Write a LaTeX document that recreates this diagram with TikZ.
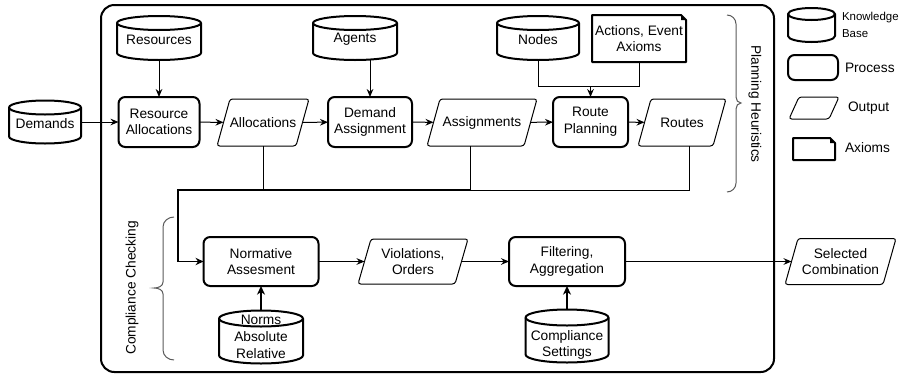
\documentclass[tikz,border=0pt]{standalone}
\usepackage{fontspec}
\setmainfont{Liberation Sans}
\usetikzlibrary{calc,arrows.meta}
\tikzset{
  base/.style={inner sep=0pt, outer sep=0pt, align=center, font=\fontsize{10.3}{12.5}\selectfont},
  dims/.style 2 args={minimum width={(#1)*0.75pt}, minimum height={(#2)*0.75pt}},
  proc/.style={base, draw, line width=1.5pt, rounded corners=5pt},
  thinln/.style={line width=0.75pt},
  kbline/.style={line width=1.5pt, line join=round},
  outline/.style={line width=0.75pt, rounded corners=2pt, line join=round},
  arr/.style={line width=0.75pt, -{Stealth[length=6pt,width=5pt,inset=2pt]}},
  arrthk/.style={line width=1.5pt, -{Stealth[length=6.5pt,width=6pt,inset=2pt]}},
  trunkln/.style={line width=1.2pt, -{Stealth[length=6pt,width=5.5pt,inset=2pt]}},
  bracel/.style={line width=0.75pt, black!65},
}
% cylinder: name, cx, cy, w, h, ry, text, text dy
\newcommand\KBcyl[8]{%
  \node[base, dims={#4}{#5}] (#1) at (#2,-#3) {};
  \draw[kbline] ($(#1.north west)+(0,-#6)$) -- ($(#1.south west)+(0,#6)$)
     arc[start angle=180,end angle=360,x radius={(#4)*0.375pt},y radius={(#6)*0.75pt}]
     -- ($(#1.north east)+(0,-#6)$)
     arc[start angle=0,end angle=180,x radius={(#4)*0.375pt},y radius={(#6)*0.75pt}] -- cycle;
  \draw[kbline] ($(#1.north west)+(0,-#6)$)
     arc[start angle=180,end angle=360,x radius={(#4)*0.375pt},y radius={(#6)*0.75pt}];
  \node[base] (#1-t) at ($(#1)+(0,-#8)$) {#7};
}
% parallelogram: name, cx, cy, w, h, slant, text
\newcommand\OUTpar[7]{%
  \node[base, dims={#4-#6}{#5}] (#1) at (#2,-#3) {#7};
  \draw[outline] ($(#1.north west)+(#6/2,0)$) -- ($(#1.north east)+(#6/2,0)$)
     -- ($(#1.south east)+(-#6/2,0)$) -- ($(#1.south west)+(-#6/2,0)$) -- cycle;
}
% note: name, cx, cy, w, h, fold, text
\newcommand\DOCnote[7]{%
  \node[base, dims={#4}{#5}] (#1) at (#2,-#3) {#7};
  \draw[kbline] (#1.north west) -- ($(#1.north east)+(-#6,0)$) -- ($(#1.north east)+(0,-#6)$)
     -- (#1.south east) -- (#1.south west) -- cycle;
  \fill ($(#1.north east)+(-#6,0)$) -- ($(#1.north east)+(0,-#6)$) -- ($(#1.north east)+(-#6,-#6)$) -- cycle;
}
\begin{document}
\begin{tikzpicture}[x=0.75pt,y=0.75pt]
\useasboundingbox (0,0) rectangle (906,-375);
% frame
\node[base, draw, line width=1.5pt, rounded corners=10pt, dims={673}{367}] (frame) at (437.5,-188.5) {};

% knowledge bases
\KBcyl{demands}{45}{122}{72}{43}{7}{Demands}{1.5}
\KBcyl{res}{159}{38}{84}{44}{7}{Resources}{1.5}
\KBcyl{agents}{355}{38}{84}{44}{7}{Agents}{1.5}
\KBcyl{nodes}{538}{38}{82}{44}{7}{Nodes}{1.5}
\KBcyl{norms}{261}{337}{84}{53}{8}{Norms\\Absolute\\Relative}{0}
\KBcyl{cs}{567}{336}{83}{53}{8}{Compliance\\Settings}{9}

% processes
\node[proc, dims={81}{50}] (ra) at (159,-122) {Resource\\Allocations};
\node[proc, dims={84}{50}] (da) at (370,-122) {Demand\\Assignment};
\node[proc, dims={75}{50}] (rp) at (590.5,-122) {Route\\Planning};
\node[proc, dims={115}{49}] (na) at (261,-261.5) {Normative\\Assesment};
\node[proc, dims={116}{49}] (fa) at (567,-261.5) {Filtering,\\Aggregation};

% outputs
\OUTpar{alloc}{263}{122.5}{92}{47}{13}{Allocations}
\OUTpar{assign}{482}{122.5}{110}{47}{13}{Assignments}
\OUTpar{routes}{682}{122.5}{88}{47}{13}{Routes}
\OUTpar{viol}{413}{261.5}{110}{45}{13}{Violations,\\Orders}
\OUTpar{sel}{840.5}{261.5}{111}{46}{13}{Selected\\Combination}

% axioms
\DOCnote{act}{639}{38.5}{94}{47}{5}{Actions, Event\\Axioms}

% legend
\KBcyl{lkb}{811.5}{25}{47}{34}{6}{}{0}
\node[proc, dims={50}{25}] (lproc) at (813,-67.5) {};
\OUTpar{lout}{814}{108}{50}{22}{10}{}
\DOCnote{lax}{814}{149}{42}{22}{5}{}
\node[base, anchor=west, align=left, font=\fontsize{8.6}{12.5}\selectfont] (lkbt) at (842,-25) {Knowledge\\Base};
\node[base, anchor=west] (lpt) at (845,-68) {Process};
\node[base, anchor=west] (lot) at (848,-108) {Output};
\node[base, anchor=west] (lat) at (845,-148) {Axioms};

% braces and group labels
\draw[bracel] (727,-15) to[out=0,in=90] (736,-24) -- (736,-97) to[out=270,in=180] (741,-103)
   to[out=180,in=90] (736,-109) -- (736,-183) to[out=270,in=0] (727,-192);
\node[base, rotate=-90] (ph) at (755,-104) {Planning Heuristics};
\draw[bracel] (174,-217) to[out=180,in=90] (163,-227) -- (163,-282) to[out=270,in=0] (154,-288)
   to[out=0,in=90] (163,-294) -- (163,-350) to[out=270,in=180] (174,-360);
\node[base, rotate=90] (cc) at (132,-288) {Compliance Checking};

% connectors, top row
\draw[arr] (demands) -- (ra);
\draw[arr] (res) -- (ra);
\draw[arr] (ra) -- (alloc);
\draw[arr] (alloc) -- (da);
\draw[arr] (agents.south -| da.north) -- (da.north);
\draw[arr] (da) -- (assign);
\draw[arr] (assign) -- (rp);
\draw[arr] (rp) -- (routes);
\coordinate (rpin) at ($(rp.north)+(0,11)$);
\draw[thinln] (nodes.south) |- (rpin);
\draw[thinln] (act.south) |- (rpin);
\draw[arr] (rpin) -- (rp.north);

% connectors to compliance checking
\coordinate (trunk) at (178,-190);
\coordinate (jA) at (470,-190);
\draw[thinln] (alloc.south) |- (trunk);
\draw[thinln] ([xshift=-9pt]assign.south) |- (jA);
\draw[thinln] ([xshift=5.25pt]routes.south) |- (jA);
\draw[trunkln] (jA) -- (trunk) |- (na.west);

% bottom row
\draw[arr] (na) -- (viol);
\draw[arr] (viol) -- (fa);
\draw[arr] (fa) -- (sel);
\draw[arrthk] (norms) -- (na);
\draw[arrthk] (cs) -- (fa);
\end{tikzpicture}
\end{document}
